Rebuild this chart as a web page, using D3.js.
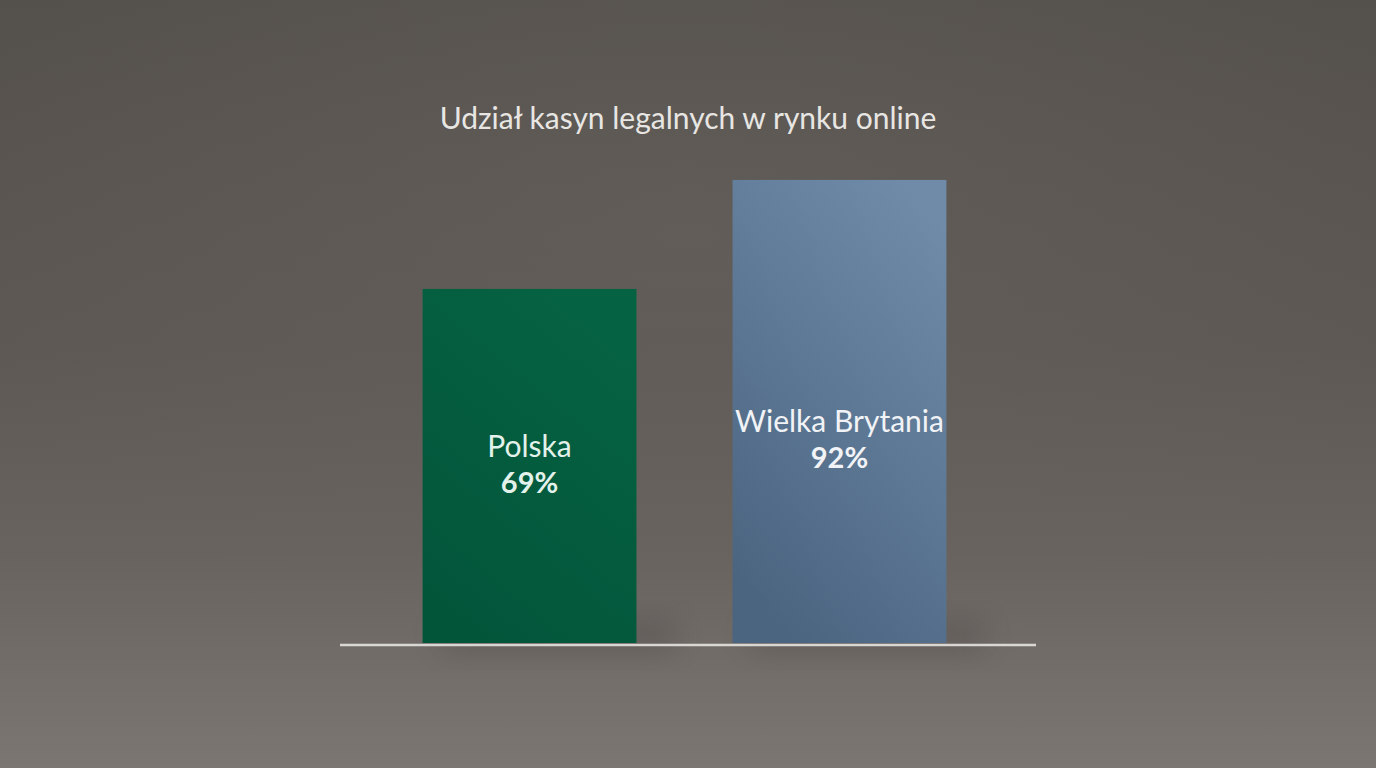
<!DOCTYPE html>
<html>
<head>
<meta charset="utf-8">
<script src="https://cdn.jsdelivr.net/npm/d3@7"></script>
<style>
  html, body { margin: 0; padding: 0; background: #5b5652; overflow: hidden; }
  svg { display: block; font-family: Lato, "Open Sans", sans-serif; }
</style>
</head>
<body>
<div id="chart"></div>
<script>
// chart data
const title = "Udział kasyn legalnych w rynku online";
const countries = ["Polska", "Wielka Brytania"];
const shares = [69, 92];
const barColors = [["#056343", "#03553a"], ["#6f8ba7", "#4b6581"]];
const textColors = ["#e3f2ea", "#f1f3f6"];

const svgWidth = 1376;
const svgHeight = 768;

const svg = d3.select("#chart")
  .append("svg")
  .attr("width", svgWidth)
  .attr("height", svgHeight);

const defs = svg.append("defs");

// background: dark studio wall fading into a lighter floor
const bg = defs.append("linearGradient")
  .attr("id", "bg").attr("x1", 0).attr("y1", 0).attr("x2", 0).attr("y2", 1);
bg.append("stop").attr("offset", "0%").attr("stop-color", "#54504c");
bg.append("stop").attr("offset", "45%").attr("stop-color", "#5d5854");
bg.append("stop").attr("offset", "72%").attr("stop-color", "#68635f");
bg.append("stop").attr("offset", "100%").attr("stop-color", "#7b7671");

const glow = defs.append("radialGradient")
  .attr("id", "glow").attr("cx", 0.5).attr("cy", 0.3).attr("r", 0.55);
glow.append("stop").attr("offset", "0%").attr("stop-color", "#6a6561").attr("stop-opacity", 0.45);
glow.append("stop").attr("offset", "100%").attr("stop-color", "#6a6561").attr("stop-opacity", 0);

defs.append("filter").attr("id", "soft")
  .attr("x", "-50%").attr("y", "-50%").attr("width", "200%").attr("height", "200%")
  .append("feGaussianBlur").attr("stdDeviation", 14);

barColors.forEach((c, i) => {
  const g = defs.append("linearGradient")
    .attr("id", "bar" + i).attr("x1", 0.8).attr("y1", 0).attr("x2", 0.3).attr("y2", 1);
  g.append("stop").attr("offset", "0%").attr("stop-color", c[0]);
  g.append("stop").attr("offset", "100%").attr("stop-color", c[1]);
});

svg.append("rect").attr("width", svgWidth).attr("height", svgHeight).attr("fill", "url(#bg)");
svg.append("rect").attr("width", svgWidth).attr("height", svgHeight).attr("fill", "url(#glow)");

// scales
const baseY = 643;
const x = d3.scaleBand()
  .domain(countries)
  .range([373, 996])
  .paddingInner(0.31)
  .paddingOuter(0.16);

const y = d3.scaleLinear()
  .domain([0, 100])
  .range([616, 142]);

const data = countries.map((c, i) => ({ country: c, value: shares[i], i: i }));

// soft shadows behind bars
svg.append("g").selectAll("rect")
  .data(data)
  .enter()
  .append("rect")
  .attr("x", d => x(d.country) + 18)
  .attr("y", baseY - 25)
  .attr("width", x.bandwidth() + 20)
  .attr("height", 35)
  .attr("fill", "#3a3634")
  .attr("opacity", 0.22)
  .attr("filter", "url(#soft)");

// bars
svg.append("g").selectAll("rect")
  .data(data)
  .enter()
  .append("rect")
  .attr("x", d => x(d.country))
  .attr("y", d => y(d.value))
  .attr("width", x.bandwidth())
  .attr("height", d => baseY - y(d.value))
  .attr("fill", d => "url(#bar" + d.i + ")");

// baseline
svg.append("line")
  .attr("x1", 340).attr("x2", 1036)
  .attr("y1", baseY + 2).attr("y2", baseY + 2)
  .attr("stroke", "#d9d7d4")
  .attr("stroke-width", 2.5);

// labels inside bars
const labels = svg.append("g").selectAll("g")
  .data(data)
  .enter()
  .append("g")
  .attr("transform", d => {
    const h = baseY - y(d.value);
    return `translate(${x(d.country) + x.bandwidth() / 2}, ${baseY - 105 - 0.229 * h})`;
  });

labels.append("text")
  .attr("text-anchor", "middle")
  .attr("font-size", 30)
  .attr("fill", d => textColors[d.i])
  .text(d => d.country);

labels.append("text")
  .attr("text-anchor", "middle")
  .attr("y", 36)
  .attr("font-size", 29)
  .attr("font-weight", "bold")
  .attr("fill", d => textColors[d.i])
  .text(d => d.value + "%");

// title
svg.append("text")
  .attr("x", 688)
  .attr("y", 129)
  .attr("text-anchor", "middle")
  .attr("font-size", 30)
  .attr("fill", "#e8e6e3")
  .text(title);
</script>
</body>
</html>
